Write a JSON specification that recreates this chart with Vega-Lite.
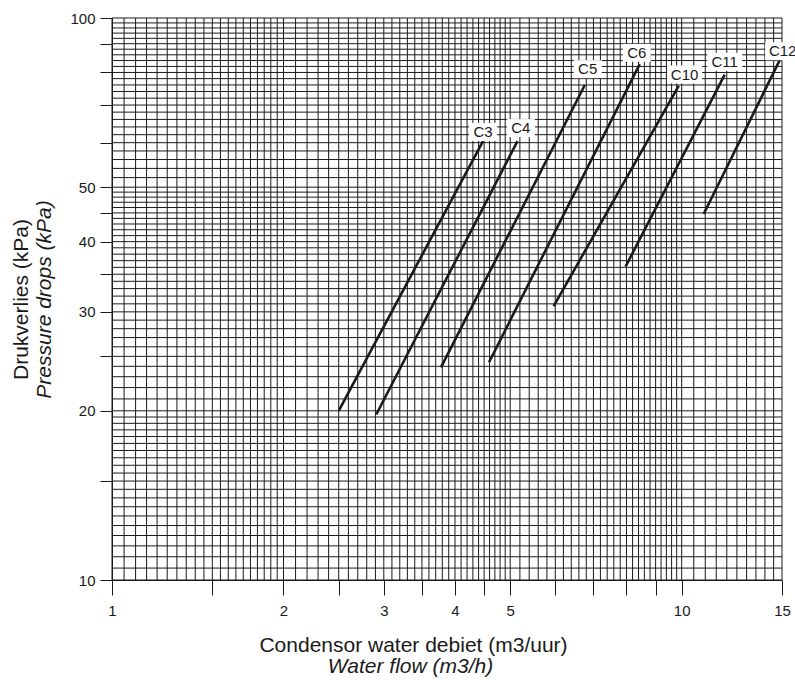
{
  "$schema": "https://vega.github.io/schema/vega-lite/v6.json",
  "width": 670,
  "height": 562,
  "autosize": {"type": "none"},
  "padding": {"left": 112, "top": 18, "right": 13, "bottom": 103},
  "background": "white",
  "config": {
    "view": {"stroke": null},
    "font": "Liberation Sans"
  },
  "datasets": {
    "xgrid": [
      {"v":1},{"v":1.05},{"v":1.1},{"v":1.15},{"v":1.2},{"v":1.25},{"v":1.3},{"v":1.35},{"v":1.4},{"v":1.45},
      {"v":1.5},{"v":1.55},{"v":1.6},{"v":1.65},{"v":1.7},{"v":1.75},{"v":1.8},{"v":1.85},{"v":1.9},{"v":1.95},
      {"v":2},{"v":2.1},{"v":2.2},{"v":2.3},{"v":2.4},{"v":2.5},{"v":2.6},{"v":2.7},{"v":2.8},{"v":2.9},
      {"v":3},{"v":3.1},{"v":3.2},{"v":3.3},{"v":3.4},{"v":3.5},{"v":3.6},{"v":3.7},{"v":3.8},{"v":3.9},
      {"v":4},{"v":4.1},{"v":4.2},{"v":4.3},{"v":4.4},{"v":4.5},{"v":4.6},{"v":4.7},{"v":4.8},{"v":4.9},
      {"v":5},{"v":5.2},{"v":5.4},{"v":5.6},{"v":5.8},{"v":6},{"v":6.2},{"v":6.4},{"v":6.6},{"v":6.8},
      {"v":7},{"v":7.2},{"v":7.4},{"v":7.6},{"v":7.8},{"v":8},{"v":8.2},{"v":8.4},{"v":8.6},{"v":8.8},
      {"v":9},{"v":9.2},{"v":9.4},{"v":9.6},{"v":9.8},{"v":10},{"v":10.5},{"v":11},{"v":11.5},{"v":12},
      {"v":12.5},{"v":13},{"v":13.5},{"v":14},{"v":14.5},{"v":15}
    ],
    "ygrid": [
      {"v":10},{"v":10.5},{"v":11},{"v":11.5},{"v":12},{"v":12.5},{"v":13},{"v":13.5},{"v":14},{"v":14.5},
      {"v":15},{"v":15.5},{"v":16},{"v":16.5},{"v":17},{"v":17.5},{"v":18},{"v":18.5},{"v":19},{"v":19.5},
      {"v":20},{"v":21},{"v":22},{"v":23},{"v":24},{"v":25},{"v":26},{"v":27},{"v":28},{"v":29},
      {"v":30},{"v":31},{"v":32},{"v":33},{"v":34},{"v":35},{"v":36},{"v":37},{"v":38},{"v":39},
      {"v":40},{"v":41},{"v":42},{"v":43},{"v":44},{"v":45},{"v":46},{"v":47},{"v":48},{"v":49},
      {"v":50},{"v":52},{"v":54},{"v":56},{"v":58},{"v":60},{"v":62},{"v":64},{"v":66},{"v":68},
      {"v":70},{"v":72},{"v":74},{"v":76},{"v":78},{"v":80},{"v":82},{"v":84},{"v":86},{"v":88},
      {"v":90},{"v":92},{"v":94},{"v":96},{"v":98},{"v":100}
    ],
    "curves": [
      {"series":"C3","flow":2.50,"drop":20.0},{"series":"C3","flow":4.48,"drop":60.4},
      {"series":"C4","flow":2.91,"drop":19.7},{"series":"C4","flow":5.15,"drop":60.4},
      {"series":"C5","flow":3.78,"drop":23.9},{"series":"C5","flow":6.76,"drop":76.0},
      {"series":"C6","flow":4.59,"drop":24.4},{"series":"C6","flow":8.44,"drop":82.8},
      {"series":"C10","flow":5.96,"drop":30.7},{"series":"C10","flow":9.88,"drop":75.7},
      {"series":"C11","flow":7.97,"drop":36.1},{"series":"C11","flow":11.9,"drop":79.3},
      {"series":"C12","flow":10.93,"drop":44.8},{"series":"C12","flow":14.86,"drop":84.1}
    ],
    "labels": [
      {"label":"C3","flow":4.48,"drop":62.7},
      {"label":"C4","flow":5.22,"drop":63.7},
      {"label":"C5","flow":6.84,"drop":81.1},
      {"label":"C6","flow":8.34,"drop":86.7},
      {"label":"C10","flow":10.12,"drop":79.3},
      {"label":"C11","flow":11.9,"drop":83.6},
      {"label":"C12","flow":15.04,"drop":87.3}
    ]
  },
  "resolve": {"axis": {"x": "independent", "y": "independent"}},
  "layer": [
    {
      "data": {"name": "xgrid"},
      "mark": {"type": "rule", "stroke": "#1a1a1a", "strokeWidth": 1},
      "encoding": {
        "x": {"field": "v", "type": "quantitative", "scale": {"type": "log", "domain": [1, 15], "nice": false}, "axis": null}
      }
    },
    {
      "data": {"name": "ygrid"},
      "mark": {"type": "rule", "stroke": "#1a1a1a", "strokeWidth": 1},
      "encoding": {
        "y": {"field": "v", "type": "quantitative", "scale": {"type": "log", "domain": [10, 100], "nice": false}, "axis": null}
      }
    },
    {
      "data": {"name": "curves"},
      "mark": {"type": "line", "stroke": "#1a1a1a", "strokeWidth": 2.6},
      "encoding": {
        "detail": {"field": "series"},
        "x": {
          "field": "flow", "type": "quantitative",
          "scale": {"type": "log", "domain": [1, 15], "nice": false},
          "axis": {
            "orient": "bottom",
            "grid": false,
            "values": [1, 1.5, 2, 2.5, 3, 3.5, 4, 4.5, 5, 6, 7, 8, 9, 10, 15],
            "labelExpr": "indexof([1,2,3,4,5,10,15], datum.value) >= 0 ? datum.value : ''",
            "labelFlush": false, "labelOverlap": false, "labelBound": false,
            "tickSize": 15, "tickColor": "#1a1a1a", "tickWidth": 1,
            "domainColor": "#1a1a1a", "domainWidth": 1,
            "labelFont": "Liberation Sans", "labelFontSize": 15, "labelColor": "#1a1a1a", "labelPadding": 8,
            "title": "Condensor water debiet (m3/uur)",
            "titleFont": "Liberation Sans", "titleFontSize": 21, "titleFontWeight": "normal", "titleColor": "#1a1a1a",
            "titleX": 301, "titleY": 71, "titleBaseline": "alphabetic", "titleAlign": "center"
          }
        },
        "y": {
          "field": "drop", "type": "quantitative",
          "scale": {"type": "log", "domain": [10, 100], "nice": false},
          "axis": {
            "orient": "left",
            "grid": false,
            "values": [10, 15, 20, 25, 30, 35, 40, 45, 50, 60, 70, 80, 90, 100],
            "labelExpr": "indexof([10,20,30,40,50,100], datum.value) >= 0 ? datum.value : ''",
            "labelFlush": false, "labelOverlap": false, "labelBound": false,
            "tickSize": 12, "tickColor": "#1a1a1a", "tickWidth": 1,
            "domainColor": "#1a1a1a", "domainWidth": 1,
            "labelFont": "Liberation Sans", "labelFontSize": 15, "labelColor": "#1a1a1a", "labelPadding": 5,
            "title": "Drukverlies (kPa)",
            "titleFont": "Liberation Sans", "titleFontSize": 21, "titleFontWeight": "normal", "titleColor": "#1a1a1a",
            "titleX": -85, "titleY": 281, "titleAngle": -90, "titleBaseline": "alphabetic", "titleAlign": "center"
          }
        }
      }
    },
    {
      "data": {"name": "labels"},
      "transform": [{"filter": "length(datum.label) == 2"}],
      "mark": {"type": "point", "shape": "M-1.4,-0.9H1.4V0.9H-1.4Z", "filled": true, "fill": "white", "stroke": null, "opacity": 1, "size": 400},
      "encoding": {
        "x": {"field": "flow", "type": "quantitative", "scale": {"type": "log", "domain": [1, 15], "nice": false}, "axis": null},
        "y": {"field": "drop", "type": "quantitative", "scale": {"type": "log", "domain": [10, 100], "nice": false}, "axis": null}
      }
    },
    {
      "data": {"name": "labels"},
      "transform": [{"filter": "length(datum.label) == 3"}],
      "mark": {"type": "point", "shape": "M-1.75,-0.9H1.75V0.9H-1.75Z", "filled": true, "fill": "white", "stroke": null, "opacity": 1, "size": 400},
      "encoding": {
        "x": {"field": "flow", "type": "quantitative", "scale": {"type": "log", "domain": [1, 15], "nice": false}, "axis": null},
        "y": {"field": "drop", "type": "quantitative", "scale": {"type": "log", "domain": [10, 100], "nice": false}, "axis": null}
      }
    },
    {
      "data": {"name": "labels"},
      "mark": {"type": "text", "font": "Liberation Sans", "fontSize": 15, "fill": "#1a1a1a", "align": "center", "baseline": "middle"},
      "encoding": {
        "text": {"field": "label"},
        "x": {
          "field": "flow", "type": "quantitative",
          "scale": {"type": "log", "domain": [1, 15], "nice": false},
          "axis": {
            "orient": "bottom", "grid": false, "labels": false, "ticks": false, "domain": false,
            "title": "Water flow (m3/h)",
            "titleFont": "Liberation Sans", "titleFontSize": 21, "titleFontWeight": "normal", "titleFontStyle": "italic", "titleColor": "#1a1a1a",
            "titleX": 298, "titleY": 92, "titleBaseline": "alphabetic", "titleAlign": "center"
          }
        },
        "y": {
          "field": "drop", "type": "quantitative",
          "scale": {"type": "log", "domain": [10, 100], "nice": false},
          "axis": {
            "orient": "left", "grid": false, "labels": false, "ticks": false, "domain": false,
            "title": "Pressure drops (kPa)",
            "titleFont": "Liberation Sans", "titleFontSize": 21, "titleFontWeight": "normal", "titleFontStyle": "italic", "titleColor": "#1a1a1a",
            "titleX": -62, "titleY": 281, "titleAngle": -90, "titleBaseline": "alphabetic", "titleAlign": "center"
          }
        }
      }
    }
  ]
}
